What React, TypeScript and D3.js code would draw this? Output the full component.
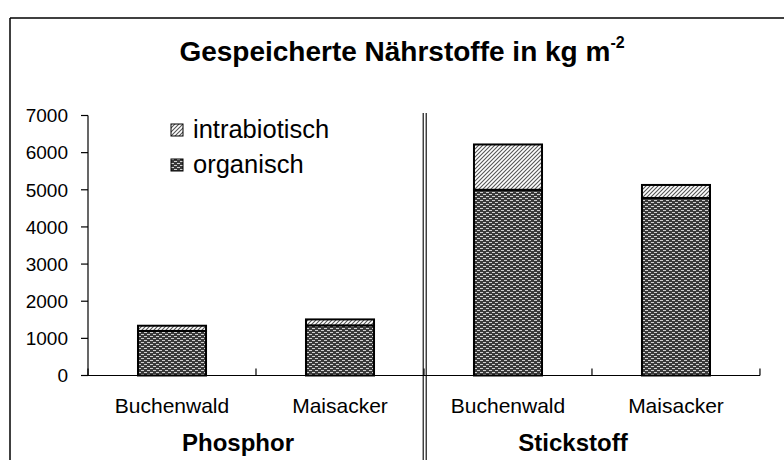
import React from "react";
import * as d3 from "d3";

const categories = ["Buchenwald", "Maisacker", "Buchenwald", "Maisacker"];
const groups = ["Phosphor", "Stickstoff"];
const organisch = [1200, 1350, 5000, 4780];
const intrabiotisch = [140, 160, 1220, 350];
const yTicks = [0, 1000, 2000, 3000, 4000, 5000, 6000, 7000];
const seriesNames = ["organisch", "intrabiotisch"];

const W = 784;
const H = 460;
const FONT = "'Liberation Sans', Arial, Helvetica, sans-serif";

export default function App() {
  const keys = categories.map((c, i) => `${i}`);
  const x = d3.scaleBand<string>().domain(keys).range([88, 760]).paddingInner(0.595).paddingOuter(0.2976);
  const y = d3.scaleLinear().domain([0, 7000]).range([375.5, 115.5]);
  const table = keys.map((k, i) => ({ key: k, organisch: organisch[i], intrabiotisch: intrabiotisch[i] }));
  const stacked = d3.stack<any>().keys(seriesNames)(table);
  const step = x.step();
  const boundaries = d3.range(0, keys.length + 1).map((i) => 88 + i * step);
  const fills: Record<string, string> = { organisch: "url(#patOrg)", intrabiotisch: "url(#patIntra)" };

  return (
    <svg width={W} height={H} style={{ display: "block", position: "absolute", left: 0, top: 0 }} fontFamily={FONT}>
      <defs>
        <pattern id="patOrg" width="6" height="4" patternUnits="userSpaceOnUse">
          <rect width="6" height="4" fill="#3a3a3a" />
          <rect x="0" y="0" width="3" height="1" fill="#d0d0d0" />
          <rect x="3" y="2" width="3" height="1" fill="#d0d0d0" />
        </pattern>
        <pattern id="patIntra" width="4" height="4" patternUnits="userSpaceOnUse">
          <rect width="4" height="4" fill="#ffffff" />
          <path d="M-1,1 l2,-2 M0,4 l4,-4 M3,5 l2,-2" stroke="#555" strokeWidth="1.1" />
        </pattern>
      </defs>
      <rect x={0} y={0} width={W} height={H} fill="#fff" />
      {/* outer frame */}
      <line x1={10} y1={18} x2={W} y2={18} stroke="#000" strokeWidth={1.5} />
      <line x1={10} y1={18} x2={10} y2={H} stroke="#000" strokeWidth={1.5} />

      {/* title */}
      <text x={402} y={61} textAnchor="middle" fontSize={28} fontWeight="bold" fill="#000">
        Gespeicherte Nährstoffe in kg m
        <tspan fontSize={16} dy={-13}>-2</tspan>
      </text>

      {/* bars */}
      {stacked.map((s) =>
        s.map((d, i) => (
          <rect
            key={s.key + i}
            x={x(keys[i])}
            y={y(d[1])}
            width={x.bandwidth()}
            height={y(d[0]) - y(d[1])}
            fill={fills[s.key]}
            stroke="#000"
            strokeWidth={2}
          />
        ))
      )}

      {/* y axis */}
      <line x1={88} y1={y(7000)} x2={88} y2={y(0)} stroke="#000" strokeWidth={1.2} />
      {yTicks.map((t) => (
        <g key={t}>
          <line x1={81} x2={88} y1={y(t)} y2={y(t)} stroke="#000" strokeWidth={1.2} />
          <text x={68} y={y(t)} dy="0.36em" textAnchor="end" fontSize={19} fill="#000">
            {t}
          </text>
        </g>
      ))}

      {/* x axis */}
      <line x1={88} y1={y(0)} x2={760} y2={y(0)} stroke="#000" strokeWidth={1.2} />
      {boundaries.map((b, i) => (
        <line key={i} x1={b} x2={b} y1={y(0)} y2={y(0) - 7} stroke="#000" strokeWidth={1.2} />
      ))}
      {categories.map((c, i) => (
        <text key={i} x={(x(keys[i]) as number) + x.bandwidth() / 2} y={413} textAnchor="middle" fontSize={21} fill="#000">
          {c}
        </text>
      ))}
      {groups.map((g, i) => (
        <text key={g} x={i === 0 ? 238 : 573} y={451} textAnchor="middle" fontSize={24} fontWeight="bold" fill="#000">
          {g}
        </text>
      ))}

      {/* group separator */}
      <line x1={423.2} x2={423.2} y1={113} y2={H} stroke="#000" strokeWidth={1.1} />
      <line x1={426.2} x2={426.2} y1={113} y2={H} stroke="#000" strokeWidth={1.1} />

      {/* legend */}
      {["intrabiotisch", "organisch"].map((n, i) => (
        <g key={n} transform={`translate(171, ${124 + i * 35})`}>
          <rect x={0} y={0} width={12} height={12} fill={fills[n]} stroke="#000" strokeWidth={1} />
          <text x={22} y={14} fontSize={25.5} fill="#000">
            {n}
          </text>
        </g>
      ))}
    </svg>
  );
}
